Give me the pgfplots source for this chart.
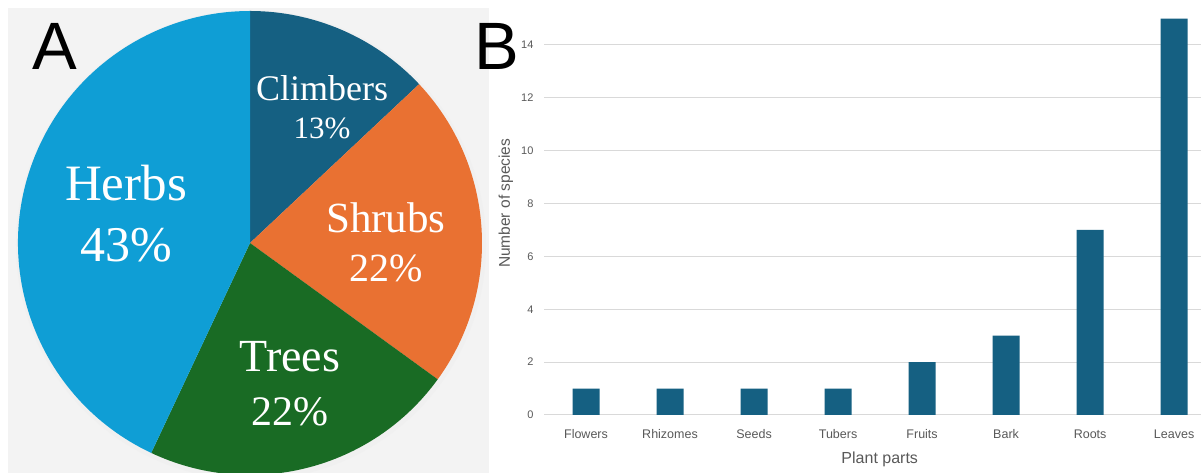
\documentclass[border=0pt]{standalone}
\usepackage{pgfplots}
\pgfplotsset{compat=1.18}
\usepackage{pgfplotstable}
\usepackage{fontspec}
\setmainfont{Liberation Sans}
\newfontfamily\piefont{Liberation Serif}

\definecolor{barblue}{HTML}{156082}
\definecolor{herbs}{HTML}{0F9ED5}
\definecolor{shrubs}{HTML}{E97132}
\definecolor{trees}{HTML}{196B24}
\definecolor{txtgray}{HTML}{595959}
\definecolor{gridgray}{HTML}{D9D9D9}
\definecolor{panel}{HTML}{F3F3F3}

% panel B data
\pgfplotstableread{
part count
Flowers 1
Rhizomes 1
Seeds 1
Tubers 1
Fruits 2
Bark 3
Roots 7
Leaves 15
}\partstable

% panel A shares (percent)
\def\shClimb{13}
\def\shShrub{22}
\def\shTree{22}
\def\shHerb{43}

\begin{document}
\begin{tikzpicture}
\path[use as bounding box, fill=white] (0,0) rectangle (1201pt,473pt);
\fill[panel] (8pt,0) rectangle (489pt,465pt);

\pgfmathsetmacro\aA{90}
\pgfmathsetmacro\aB{\aA-3.6*\shClimb}
\pgfmathsetmacro\aC{\aB-3.6*\shShrub}
\pgfmathsetmacro\aD{\aC-3.6*\shTree}

% pie
\begin{axis}[at={(250pt,230pt)}, anchor=origin, x=1pt, y=1pt,
  xmin=-240, xmax=240, ymin=-240, ymax=240, hide axis, clip=false]
  \fill[black!6] (axis cs:1,-2) circle[radius=235pt];
  \fill[barblue] (axis cs:0,0) -- ++(\aA:232pt) arc[start angle=\aA, delta angle={-3.6*\shClimb}, radius=232pt] -- cycle;
  \fill[shrubs] (axis cs:0,0) -- ++(\aB:232pt) arc[start angle=\aB, delta angle={-3.6*\shShrub}, radius=232pt] -- cycle;
  \fill[trees] (axis cs:0,0) -- ++(\aC:232pt) arc[start angle=\aC, delta angle={-3.6*\shTree}, radius=232pt] -- cycle;
  \fill[herbs] (axis cs:0,0) -- ++(\aD:232pt) arc[start angle=\aD, delta angle={-3.6*\shHerb}, radius=232pt] -- cycle;
  \node[text=white, font=\piefont\fontsize{36}{40}\selectfont] at (axis cs:72,155) {Climbers};
  \node[text=white, font=\piefont\fontsize{31}{36}\selectfont] at (axis cs:72,115) {\shClimb\%};
  \node[text=white, font=\piefont\fontsize{51}{56}\selectfont] at (axis cs:-124,60) {Herbs};
  \node[text=white, font=\piefont\fontsize{50}{56}\selectfont] at (axis cs:-124,-2) {\shHerb\%};
  \node[text=white, font=\piefont\fontsize{43}{48}\selectfont] at (axis cs:136,25) {Shrubs};
  \node[text=white, font=\piefont\fontsize{40}{44}\selectfont] at (axis cs:136,-25) {\shShrub\%};
  \node[text=white, font=\piefont\fontsize{46}{50}\selectfont] at (axis cs:40,-114) {Trees};
  \node[text=white, font=\piefont\fontsize{42}{46}\selectfont] at (axis cs:40,-169) {\shTree\%};
\end{axis}

% bars
\begin{axis}[
  at={(544pt,58pt)}, anchor=south west,
  scale only axis, width=657pt, height=407pt,
  ymin=0, ymax=15.4, xmin=-0.5, xmax=7.32,
  ytick={0,2,...,14},
  xtick={0,...,7},
  xticklabels from table={\partstable}{part},
  axis line style={draw=none},
  major tick length=0pt,
  ymajorgrids, grid style={gridgray, line width=1pt},
  /pgf/number format/assume math mode=true,
  xticklabel style={anchor=center, yshift=-19.5pt, text=txtgray, font=\fontsize{12.5}{14}\selectfont},
  yticklabel style={anchor=east, xshift=-7pt, text=txtgray, font=\fontsize{11}{13}\selectfont},
  xlabel={Plant parts},
  ylabel={Number of species},
  xlabel style={at={(axis description cs:0.511,-0.11)}, anchor=center, text=txtgray, font=\fontsize{16}{18}\selectfont},
  ylabel style={at={(axis description cs:-0.058,0.52)}, anchor=center, text=txtgray, font=\fontsize{15.5}{18}\selectfont},
  ybar, bar width=27pt,
]
\addplot[fill=barblue, draw=none] table[x expr=\coordindex, y=count] {\partstable};
\end{axis}

\node[font=\fontsize{67}{70}\selectfont] at (55pt,427pt) {A};
\node[font=\fontsize{67}{70}\selectfont] at (497pt,427pt) {B};
\end{tikzpicture}
\end{document}
